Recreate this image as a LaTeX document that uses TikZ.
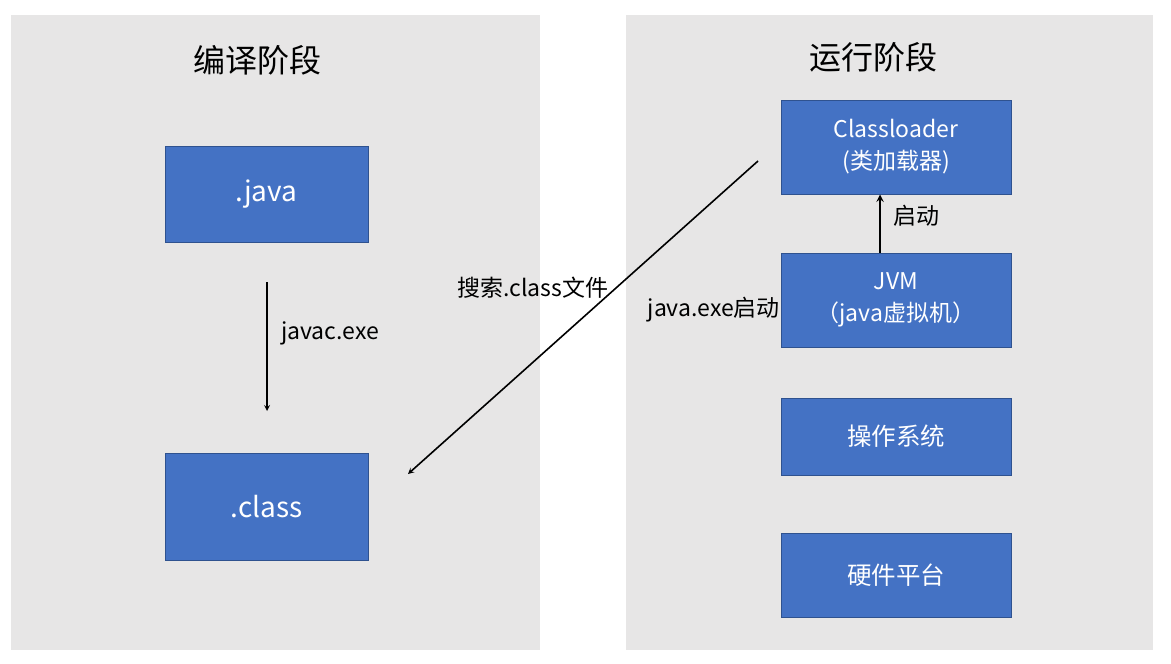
\documentclass[tikz,border=0pt]{standalone}
\usepackage{fontspec}
\setmainfont{Noto Sans CJK SC}
\usepackage{tikz}
\usetikzlibrary{positioning,arrows}
\definecolor{panelgray}{HTML}{E7E6E6}
\definecolor{boxblue}{HTML}{4472C4}
\definecolor{boxedge}{HTML}{2F528F}
\tikzstyle{arrow} = [line width=1.6pt,->,>=stealth]
\tikzstyle{block} = [draw=boxedge, line width=1pt, fill=boxblue, rectangle, text=white, text centered, align=center, inner sep=0pt]

\begin{document}
\begin{tikzpicture}[x=1pt,y=-1pt]
		\useasboundingbox (0,0) rectangle (1171,664);
		\coordinate (java) at (266.5,194);
		\coordinate (class) at (266.5,506.5);
		\coordinate (loader) at (896,147);
		\coordinate (jvm) at (896,300);
		\coordinate (os) at (896,436.5);
		\coordinate (hw) at (896,575);
		% Panels
		\fill[panelgray] (11,15) rectangle (540,650);
		\fill[panelgray] (626,15) rectangle (1153,650);
		\node[name=title1] at (257,60) {\fontsize{32}{38}\selectfont 编译阶段};
		\node[name=title2] at (873,57) {\fontsize{32}{38}\selectfont 运行阶段};
		% Compile stage
		\begin{scope}[every node/.style={block, minimum width=203pt, font=\fontsize{28}{32}\selectfont}]
		\node[name=java, minimum height=96pt] at (java) {.java};
		\node[name=class, minimum height=107pt] at (class) {.class};
		\end{scope}
		% Run stage
		\begin{scope}[every node/.style={block, minimum width=230pt, font=\fontsize{23}{32}\selectfont}]
		\node[name=loader, minimum height=94pt] at (loader) {Classloader\\(类加载器)};
		\node[name=jvm, minimum height=94pt] at (jvm) {JVM\\（java虚拟机）};
		\node[name=os, minimum height=77pt, font=\fontsize{24.5}{32}\selectfont] at (os) {操作系统};
		\node[name=hw, minimum height=84pt, font=\fontsize{24.5}{32}\selectfont] at (hw) {硬件平台};
		\end{scope}
		% Arrows
		\coordinate (javactop) at (267,282);
		\coordinate (javacbot) at (267,411);
		\coordinate (searchfrom) at (758,161);
		\coordinate (searchto) at (408,474);
		\draw [arrow] (javactop)--(javacbot);
		\draw [arrow] (searchfrom)--(searchto);
		\draw [arrow, line width=2.2pt] (jvm.north -| 880,0) -- (loader.south -| 880,0);
		% Labels
		\begin{scope}[every node/.style={font=\fontsize{23}{26}\selectfont, inner sep=0pt}]
		\node[name=javaclbl, anchor=west] at (281,333) {javac.exe};
		\node[name=startlbl, anchor=west] at (893,216) {启动};
		\node[name=searchlbl, anchor=west] at (457,288) {搜索.class文件};
		\node[name=runlbl, anchor=east] at (780,310) {java.exe启动};
		\end{scope}
\end{tikzpicture}
\end{document}
